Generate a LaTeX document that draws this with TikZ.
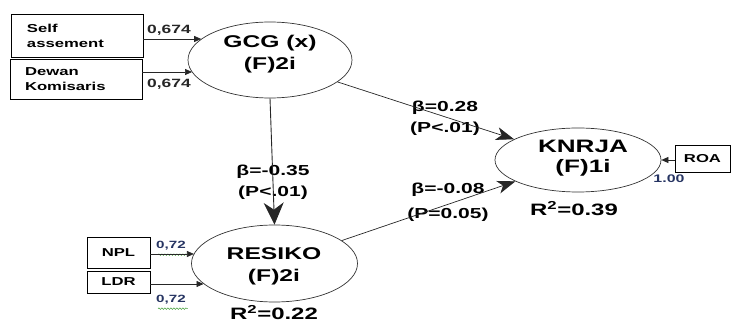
\documentclass[tikz,border=0pt]{standalone}
\usepackage{fontspec}
\setmainfont{Liberation Sans}[FakeStretch=1.45]
\usetikzlibrary{shapes.geometric,arrows.meta,decorations.pathmorphing}
\definecolor{navy}{RGB}{38,52,98}
\definecolor{wavy}{RGB}{70,160,60}
\tikzset{
  lat/.style={ellipse, draw=black!80, line width=0.7pt, inner sep=0pt},
  lattext/.style={align=center, inner sep=0pt, font=\fontsize{17}{22}\selectfont\bfseries},
  indbox/.style={rectangle, draw=black, line width=0.9pt, inner sep=0pt},
  boxtext/.style={font=\fontsize{11.5}{15}\selectfont\bfseries},
  indarrow/.style={draw=black!85, line width=0.7pt, -{Triangle[length=7pt,width=6pt]}},
  patharrow/.style={draw=black!85, line width=0.7pt, -{Stealth[length=18pt,width=13pt,inset=5pt]}},
  lbl/.style={font=\fontsize{14.5}{21}\selectfont\bfseries, align=center, inner sep=0pt},
  load/.style={font=\fontsize{12}{14}\selectfont\bfseries, inner sep=0pt},
  rsq/.style={font=\fontsize{16.5}{20}\selectfont\bfseries, inner sep=0pt, anchor=base},
  spell/.style={draw=wavy, line width=0.5pt, decorate, decoration={snake, amplitude=0.8pt, segment length=3pt}}
}
\begin{document}
\begin{tikzpicture}[x=1pt,y=-1pt]
\useasboundingbox (0,0) rectangle (732,323);

% latent variables
\node[lat, minimum width=164pt, minimum height=76pt] (gcg) at (270,60) {};
\node[lattext, font=\fontsize{17}{22}\selectfont\bfseries] (gcgt) at (270,54) {GCG (x)\\(F)2i};
\node[lat, minimum width=166pt, minimum height=64pt] (knrja) at (578,160) {};
\node[lattext, font=\fontsize{18}{20}\selectfont\bfseries] (knrjat) at (583,158) {KNRJA\\(F)1i};
\node[lat, minimum width=166pt, minimum height=77pt] (resiko) at (274.5,263.5) {};
\node[lattext, font=\fontsize{17}{22}\selectfont\bfseries] (resikot) at (274,266) {RESIKO\\(F)2i};

% indicator boxes
\node[indbox, boxtext, minimum width=132pt, minimum height=43pt, text width=100pt, inner xsep=16pt, align=left] (self) at (77,35.5) {Self\\assement};
\node[indbox, boxtext, minimum width=132pt, minimum height=40pt, text width=102pt, inner xsep=15pt, align=left] (dewan) at (76,79) {Dewan\\Komisaris};
\node[indbox, boxtext, minimum width=63pt, minimum height=31pt] (npl) at (118.5,252.5) {NPL};
\node[indbox, boxtext, minimum width=63pt, minimum height=22pt] (ldr) at (118.5,282) {LDR};
\node[indbox, boxtext, minimum width=55pt, minimum height=27pt] (roa) at (702.5,158.5) {ROA};

% loadings
\node[load, text=black!85] (l1) at (169,30) {0,674};
\node[load, text=black!85] (l2) at (169,84) {0,674};
\node[load, text=navy, font=\fontsize{10.5}{12}\selectfont\bfseries] (l3) at (171,246) {0,72};
\node[load, text=navy, font=\fontsize{10.5}{12}\selectfont\bfseries] (l4) at (171,300) {0,72};
\node[load, text=navy, font=\fontsize{11}{12}\selectfont\bfseries] (l5) at (669,179) {1.00};
\draw[spell] (l3.south west) ++(2,4) -- ++(30,0);
\draw[spell] (l4.south west) ++(2,4) -- ++(30,0);

% path labels
\node[lbl] (b1) at (445,118) {β=0.28\\(P<.01)};
\node[lbl] (b2) at (273,182.5) {β=-0.35\\(P<.01)};
\node[lbl, font=\fontsize{14.5}{25}\selectfont\bfseries] (b3) at (448,202) {β=-0.08\\(P=0.05)};
\node[rsq] (r1) at (574,216) {R\textsuperscript{2}=0.39};
\node[rsq] (r2) at (274,320) {R\textsuperscript{2}=0.22};

% indicator arrows
\draw[indarrow] ([yshift=-3.5pt]self.east) -- ([yshift=-3.5pt]self.east -| gcg.163);
\draw[indarrow] ([yshift=7pt]dewan.east) -- ([yshift=7pt]dewan.east -| gcg.189);
\draw[indarrow] ([yshift=-1.5pt]npl.east) -- ([yshift=-1.5pt]npl.east -| resiko.173);
\draw[indarrow] ([yshift=-2pt]ldr.east) -- ([yshift=-2pt]ldr.east -| resiko.196);
\draw[indarrow] ([yshift=-1.5pt]roa.west) -- ([yshift=-1.5pt]roa.west -| knrja.east);

% structural paths
\draw[patharrow, line width=0.9pt, -{Stealth[length=22pt,width=20pt,inset=7pt]}] (gcg.south) -- (resiko.north);
\draw[patharrow] (gcg) -- (knrja);
\draw[patharrow] (resiko) -- (knrja);
\end{tikzpicture}
\end{document}
